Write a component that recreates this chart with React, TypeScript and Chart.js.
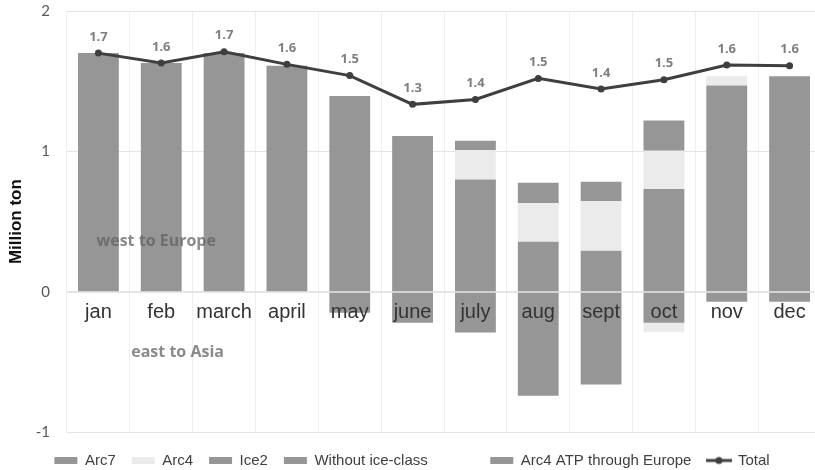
import React, { useEffect, useRef } from 'react';
import { Chart, registerables } from 'chart.js';

Chart.register(...registerables);

// ---- data ----
const categories = ['jan', 'feb', 'march', 'april', 'may', 'june', 'july', 'aug', 'sept', 'oct', 'nov', 'dec'];
// west to Europe (positive)
const arc7West = [1.70, 1.63, 1.70, 1.61, 1.395, 1.11, 0.80, 0.356, 0.292, 0.733, 1.47, 1.535];
const arc4West = [null, null, null, null, null, null, 0.21, 0.277, 0.354, 0.271, 0.065, null];
const ice2West = [null, null, null, null, null, null, 0.065, 0.143, 0.137, 0.216, null, null];
const withoutIceClass = [null, null, null, null, null, null, null, null, null, null, null, null];
const arc4AtpEurope = [null, null, null, null, null, null, null, null, null, null, null, null];
// east to Asia (negative)
const arc7East = [null, null, null, null, -0.15, -0.22, -0.29, -0.74, -0.66, -0.22, -0.07, -0.07];
const arc4East = [null, null, null, null, null, null, null, null, null, -0.065, null, null];
// total line
const totals = [1.70, 1.63, 1.71, 1.62, 1.54, 1.335, 1.37, 1.52, 1.445, 1.51, 1.615, 1.61];
const yTicks = [-1, 0, 1, 2];
const legendOrder = ['Arc7', 'Arc4', 'Ice2', 'Without ice-class', '__spacer__', 'Arc4 ATP through Europe', 'Total'];

const GRAY = '#969696';
const LIGHT = '#ebebeb';
const DARK = '#3f3f3f';

export default function App() {
  const ref = useRef<HTMLCanvasElement>(null);

  useEffect(() => {
    const canvas = ref.current;
    if (!canvas) return;

    // legend icon for the Total line (line with a dot)
    const icon = document.createElement('canvas');
    icon.width = 26;
    icon.height = 10;
    const ic = icon.getContext('2d')!;
    ic.strokeStyle = DARK;
    ic.lineWidth = 3;
    ic.beginPath();
    ic.moveTo(0, 5);
    ic.lineTo(26, 5);
    ic.stroke();
    ic.fillStyle = DARK;
    ic.beginPath();
    ic.arc(13, 5, 3.5, 0, Math.PI * 2);
    ic.fill();

    const extras = {
      id: 'extras',
      afterDatasetsDraw(chart: any) {
        const { ctx, chartArea, scales } = chart;
        const xs = scales.x;
        const ys = scales.y;
        ctx.save();
        // zero axis line over the bars
        const y0 = ys.getPixelForValue(0);
        ctx.strokeStyle = 'rgba(222,222,222,0.9)';
        ctx.lineWidth = 1;
        ctx.beginPath();
        ctx.moveTo(chartArea.left, y0 + 0.5);
        ctx.lineTo(chartArea.right, y0 + 0.5);
        ctx.stroke();

        // value labels above the total line
        const lineIdx = chart.data.datasets.findIndex((d: any) => d.type === 'line');
        const meta = chart.getDatasetMeta(lineIdx);
        ctx.fillStyle = '#7f7f7f';
        ctx.font = 'bold 13px "Open Sans"';
        ctx.textAlign = 'center';
        ctx.textBaseline = 'middle';
        meta.data.forEach((pt: any, i: number) => {
          ctx.fillText(totals[i].toFixed(1), pt.x, pt.y - 16);
        });

        // direction annotations
        ctx.fillStyle = 'rgba(95,95,95,0.73)';
        ctx.font = 'bold 16px "Open Sans"';
        ctx.fillText('west to Europe', xs.getPixelForValue(0.92), ys.getPixelForValue(0.36));
        ctx.fillText('east to Asia', xs.getPixelForValue(1.26), ys.getPixelForValue(-0.43));
        ctx.restore();
      },
    };

    const barDs = (label: string, data: any[], color: string) => ({
      type: 'bar' as const,
      label,
      data,
      backgroundColor: color,
      borderWidth: 0,
      stack: 'bars',
      order: 1,
      barPercentage: 0.65,
      categoryPercentage: 1.0,
    });

    const chart = new Chart(canvas, {
      data: {
        labels: categories,
        datasets: [
          {
            type: 'line',
            label: 'Total',
            data: totals,
            borderColor: DARK,
            backgroundColor: DARK,
            borderWidth: 3,
            pointRadius: 3.5,
            pointBackgroundColor: DARK,
            pointBorderWidth: 0,
            tension: 0,
            order: 0,
          } as any,
          barDs('Arc7', arc7West, GRAY),
          barDs('Arc4', arc4West, LIGHT),
          barDs('Ice2', ice2West, GRAY),
          barDs('Without ice-class', withoutIceClass, GRAY),
          barDs('Arc4 ATP through Europe', arc4AtpEurope, GRAY),
          barDs('Arc7 east', arc7East, GRAY),
          barDs('Arc4 east', arc4East, LIGHT),
        ],
      },
      options: {
        responsive: false,
        animation: false,
        events: [],
        layout: { padding: { top: 11, right: 1, bottom: 0, left: 0 } },
        plugins: {
          tooltip: { enabled: false },
          legend: {
            position: 'bottom',
            title: { display: true, text: '', font: { size: 4 }, padding: 0 },
            labels: {
              usePointStyle: true,
              pointStyleWidth: 23,
              boxHeight: 7,
              padding: 16,
              color: '#404040',
              font: { family: '"Liberation Sans"', size: 15 },
              generateLabels: (ch: any) => {
                const ds = ch.data.datasets;
                return legendOrder.map((name) => {
                  if (name === '__spacer__') {
                    return {
                      text: '',
                      fillStyle: 'rgba(0,0,0,0)',
                      strokeStyle: 'rgba(0,0,0,0)',
                      lineWidth: 0,
                      pointStyle: 'rect',
                      hidden: false,
                      fontColor: '#404040',
                    };
                  }
                  const i = ds.findIndex((d: any) => d.label === name);
                  const d = ds[i];
                  return {
                    text: name,
                    fillStyle: d.backgroundColor,
                    strokeStyle: 'rgba(0,0,0,0)',
                    lineWidth: 0,
                    pointStyle: d.type === 'line' ? icon : 'rect',
                    datasetIndex: i,
                    hidden: false,
                    fontColor: '#404040',
                  };
                });
              },
            },
          },
        },
        scales: {
          x: {
            stacked: true,
            position: { y: 0 } as any,
            grid: { color: '#efefef', drawTicks: false, offset: true, z: -1 },
            border: { display: false },
            ticks: {
              z: 1,
              color: '#333333',
              font: { family: '"Liberation Sans"', size: 20 },
              padding: 9,
              maxRotation: 0,
              autoSkip: false,
            },
          },
          y: {
            stacked: true,
            min: -1,
            max: 2,
            afterBuildTicks: (s: any) => {
              s.ticks = yTicks.map((v) => ({ value: v }));
            },
            afterFit: (s: any) => {
              s.width = 67;
            },
            grid: { color: '#e4e4e4', drawTicks: false },
            border: { display: false },
            ticks: {
              color: '#595959',
              font: { family: 'Lato', size: 15 },
              padding: 17,
            },
            title: {
              display: true,
              text: 'Million ton',
              color: '#111111',
              font: { family: '"Liberation Sans"', size: 17, weight: 'bold' },
              padding: { top: 6, bottom: 0 },
            },
          },
        },
      },
      plugins: [extras],
    } as any);

    return () => chart.destroy();
  }, []);

  return (
    <div
      style={{
        position: 'fixed',
        left: 0,
        top: 0,
        width: 815,
        height: 470,
        overflow: 'hidden',
        background: '#ffffff',
      }}
    >
      <canvas
        ref={ref}
        width={825}
        height={493}
        style={{ display: 'block', width: 825, height: 493, marginTop: -15 }}
      />
    </div>
  );
}
